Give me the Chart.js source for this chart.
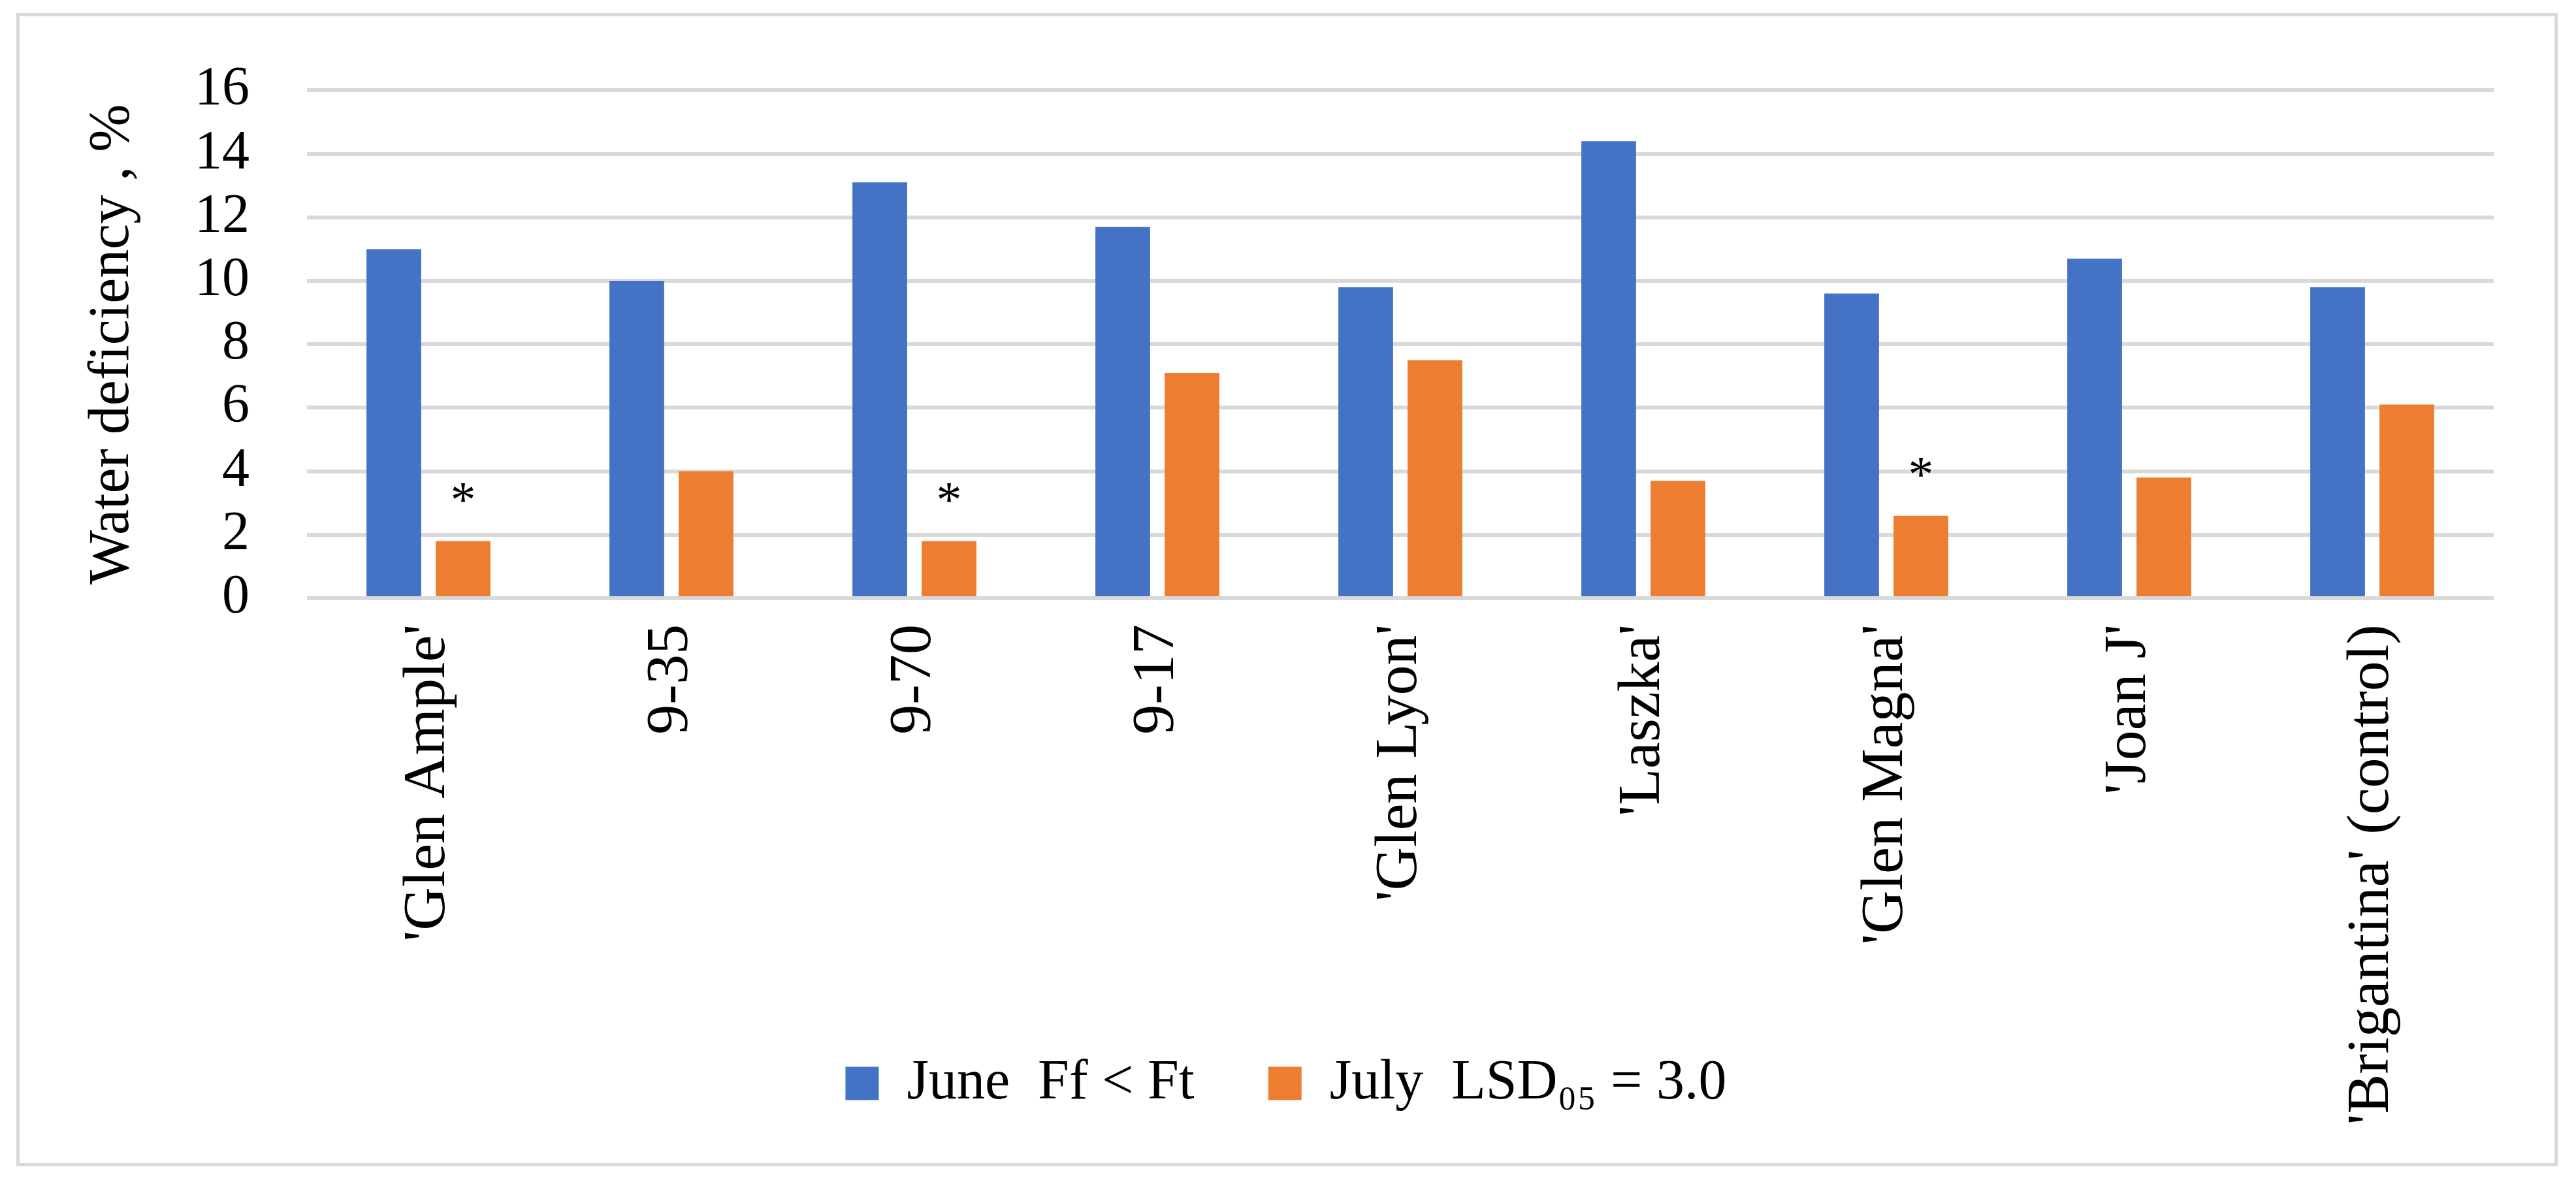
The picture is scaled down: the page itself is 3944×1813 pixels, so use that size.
<!DOCTYPE html>
<html>
<head>
<meta charset="utf-8">
<script src="https://cdn.jsdelivr.net/npm/chart.js@4.4.1/dist/chart.umd.min.js"></script>
<style>
  html, body { margin: 0; padding: 0; background: #fff; }
  #wrap { width: 3944px; height: 1813px; position: relative; }
</style>
</head>
<body>
<div id="wrap"><canvas id="chartWater"></canvas></div>
<script>
const categories = [
  "'Glen Ample'", '9-35', '9-70', '9-17', "'Glen Lyon'",
  "'Laszka'", "'Glen Magna'", "'Joan J'", "'Brigantina' (control)"
];
const dataJune = [11.0, 10.0, 13.1, 11.7, 9.8, 14.4, 9.6, 10.7, 9.8];
const dataJuly = [1.8, 4.0, 1.8, 7.1, 7.5, 3.7, 2.6, 3.8, 6.1];
// asterisk over the July bar
const julyStars = [true, false, true, false, false, false, true, false, false];
const yTicks = [0, 2, 4, 6, 8, 10, 12, 14, 16];

const serif = "'Liberation Serif', 'DejaVu Serif', serif";

const framePlugin = {
  id: 'frame',
  beforeDraw(chart) {
    const ctx = chart.ctx;
    ctx.save();
    ctx.fillStyle = '#fff';
    ctx.fillRect(0, 0, chart.width, chart.height);
    ctx.strokeStyle = '#d9d9d9';
    ctx.lineWidth = 5;
    ctx.strokeRect(27.5, 22.5, 3886, 1761);
    ctx.restore();
  },
  afterLayout(chart) {
    // long x labels run down past the axis box, next to the legend: don't clip them
    chart.scales.x._computeLabelArea = () => undefined;
  }
};

const starPlugin = {
  id: 'stars',
  afterDatasetsDraw(chart) {
    const ctx = chart.ctx;
    const meta = chart.getDatasetMeta(1);
    ctx.save();
    ctx.fillStyle = '#000';
    ctx.font = '78px ' + serif;
    ctx.textAlign = 'center';
    ctx.textBaseline = 'alphabetic';
    meta.data.forEach((bar, i) => {
      if (julyStars[i]) ctx.fillText('*', bar.x, bar.y - 38);
    });
    ctx.restore();
  }
};

const ctxW = document.getElementById('chartWater').getContext('2d');
new Chart(ctxW, {
  type: 'bar',
  data: {
    labels: categories,
    datasets: [
      {
        label: 'June  Ff < Ft',
        data: dataJune,
        backgroundColor: '#4472c4',
        categoryPercentage: 0.57,
        barPercentage: 0.79
      },
      {
        label: 'July  LSD\u2080\u2085 = 3.0',
        data: dataJuly,
        backgroundColor: '#ed7d31',
        categoryPercentage: 0.57,
        barPercentage: 0.79
      }
    ]
  },
  options: {
    responsive: true,
    maintainAspectRatio: false,
    animation: false,
    devicePixelRatio: 1,
    layout: { padding: { left: 120, right: 126, top: 106, bottom: 101 } },
    scales: {
      x: {
        grid: { display: false, drawTicks: false },
        border: { display: false },
        ticks: {
          autoSkip: false,
          minRotation: 90,
          maxRotation: 90,
          padding: 40,
          color: '#000',
          font: { family: serif, size: 92 }
        },
        afterFit: scale => { scale.height = 587; }
      },
      y: {
        min: 0,
        max: 16,
        afterBuildTicks: axis => { axis.ticks = yTicks.map(v => ({ value: v })); },
        grid: { color: '#d9d9d9', lineWidth: 6, drawTicks: false },
        border: { display: false },
        ticks: {
          autoSkip: false,
          padding: 88,
          color: '#000',
          font: { family: serif, size: 84 }
        },
        title: {
          display: true,
          text: 'Water deficiency , %',
          color: '#000',
          font: { family: serif, size: 88 },
          padding: { top: 0, bottom: 0 }
        },
        afterFit: scale => { scale.width = 350; }
      }
    },
    plugins: {
      legend: {
        position: 'bottom',
        labels: {
          boxWidth: 51,
          boxHeight: 51,
          padding: 113,
          color: '#000',
          font: { family: serif, size: 86 }
        }
      },
      tooltip: { enabled: false }
    }
  },
  plugins: [framePlugin, starPlugin]
});
</script>
</body>
</html>
